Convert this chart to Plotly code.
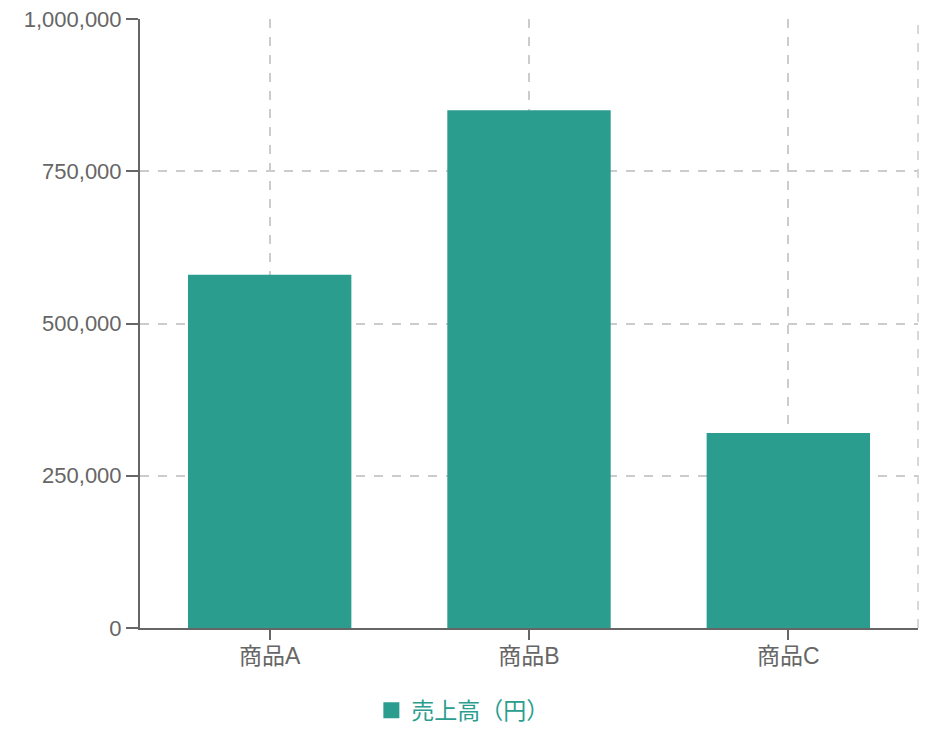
import plotly.graph_objects as go

categories = ["商品A", "商品B", "商品C"]
sales = [580000, 850000, 320000]
series_name = "売上高（円）"
y_ticks = [0, 250000, 500000, 750000, 1000000]
y_tick_labels = ["0", "250,000", "500,000", "750,000", "1,000,000"]

teal = "#2a9d8f"
axis_color = "#666666"
grid_color = "#cccccc"
font_family = "Liberation Sans, Arial, Noto Sans CJK JP, sans-serif"

fig = go.Figure()
fig.add_trace(go.Bar(x=categories, y=sales, name=series_name, showlegend=False,
                     marker=dict(color=teal, line=dict(width=0)), width=0.63))
# legend entry (square swatch)
fig.add_trace(go.Scatter(x=[None], y=[None], mode="markers", name=series_name,
                         marker=dict(symbol="square", size=18, color=teal, line=dict(width=0)),
                         showlegend=True))

fig.update_layout(
    width=932, height=744,
    margin=dict(l=132, r=22, t=11, b=124),
    paper_bgcolor="white", plot_bgcolor="white",
    font=dict(family=font_family, size=22, color=axis_color),
    showlegend=True,
    legend=dict(orientation="h", x=0.415, xanchor="center",
                y=-0.1, yanchor="top",
                font=dict(color=teal, size=23), itemwidth=30, itemsizing="trace"),
)
fig.update_xaxes(
    showline=True, linecolor=axis_color, linewidth=2, automargin=False,
    ticks="outside", ticklen=10, tickcolor=axis_color, tickwidth=2,
    ticklabelstandoff=-4,
    showgrid=True, gridcolor=grid_color, griddash="dash", gridwidth=1.5,
    tickfont=dict(size=23, color=axis_color),
)
fig.update_yaxes(
    range=[0, 1000000], tickvals=y_ticks, ticktext=y_tick_labels,
    showline=True, linecolor=axis_color, linewidth=2, automargin=False,
    ticklabeloverflow="allow",
    ticks="outside", ticklen=12, tickcolor=axis_color, tickwidth=2,
    showgrid=True, gridcolor=grid_color, griddash="dash", gridwidth=1.5,
    zeroline=False, tickfont=dict(size=22, color=axis_color),
)
fig.add_shape(type="line", xref="x domain", yref="y domain", x0=1, x1=1, y0=0, y1=1,
              line=dict(color=grid_color, width=1.5, dash="dash"), layer="below")

fig.write_html("out.html")
